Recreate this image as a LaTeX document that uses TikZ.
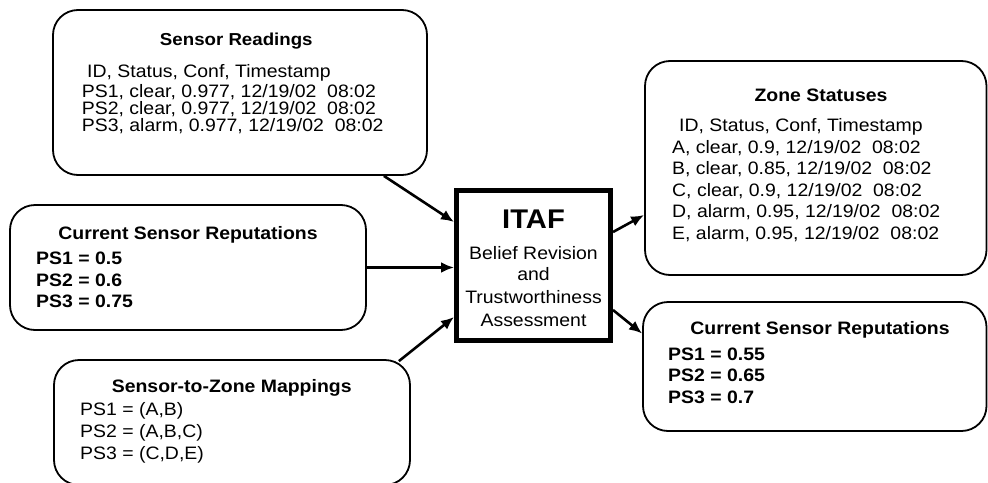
\documentclass[tikz,border=0pt]{standalone}
\usepackage{fontspec}
\setmainfont[FakeStretch=1.08]{Liberation Sans}
\usetikzlibrary{arrows.meta}
\begin{document}
\begin{tikzpicture}[x=1pt,y=-1pt,
  box/.style={draw,line width=1.8pt,rounded corners=25pt,inner sep=0pt},
  itafbox/.style={draw,line width=5pt,inner sep=0pt},
  ttl/.style={inner sep=0pt,anchor=base,font=\fontsize{18}{21}\selectfont\bfseries},
  bod/.style={inner sep=0pt,anchor=base west,font=\fontsize{18}{21}\selectfont},
  bodb/.style={bod,font=\fontsize{18}{21}\selectfont\bfseries},
  ctr/.style={inner sep=0pt,anchor=base,font=\fontsize{18}{21}\selectfont},
  arr/.style={line width=2.6pt,-{Latex[length=13pt,width=11pt]}}
]
\useasboundingbox (0,0) rectangle (988,482);

% boxes
\node[box,minimum width=374pt,minimum height=165pt] (sr) at (240,92.5) {};
\node[box,minimum width=356pt,minimum height=125pt] (lr) at (188,267.5) {};
\node[box,minimum width=356pt,minimum height=125pt] (stz) at (232,422.5) {};
\node[itafbox,minimum width=154pt,minimum height=150pt] (itaf) at (533.5,265.5) {};
\node[box,minimum width=341.5pt,minimum height=214pt] (zs) at (815.75,168) {};
\node[box,minimum width=343.5pt,minimum height=129pt] (rr) at (814.75,366.5) {};

% Sensor Readings
\node[ttl,font=\fontsize{17.3}{21}\selectfont\bfseries] (srt) at (236.3,45) {Sensor Readings};
\node[bod] (srh) at (87,77.3) {ID, Status, Conf, Timestamp};
\node[bod] (sr1) at (81.7,97.7) {PS1, clear, 0.977, 12/19/02\ \ 08:02};
\node[bod] (sr2) at (81.7,114.3) {PS2, clear, 0.977, 12/19/02\ \ 08:02};
\node[bod] (sr3) at (81.7,131) {PS3, alarm, 0.977, 12/19/02\ \ 08:02};

% Current Sensor Reputations (left)
\node[ttl] (lrt) at (188,239) {Current Sensor Reputations};
\node[bodb] (lr1) at (36,264) {PS1 = 0.5};
\node[bodb] (lr2) at (36,286) {PS2 = 0.6};
\node[bodb] (lr3) at (36,307) {PS3 = 0.75};

% Sensor-to-Zone Mappings
\node[ttl] (stzt) at (231.7,392.7) {Sensor-to-Zone Mappings};
\node[bod] (stz1) at (80,415) {PS1 = (A,B)};
\node[bod] (stz2) at (80,437.3) {PS2 = (A,B,C)};
\node[bod] (stz3) at (80,459.3) {PS3 = (C,D,E)};

% ITAF
\node[ttl,font=\fontsize{27}{30}\selectfont\bfseries] (itaft) at (533.5,228.3) {ITAF};
\node[ctr] (it1) at (533.5,259.3) {Belief Revision};
\node[ctr] (it2) at (533.5,280.7) {and};
\node[ctr] (it3) at (533.5,303.3) {Trustworthiness};
\node[ctr] (it4) at (533.5,326) {Assessment};

% Zone Statuses
\node[ttl] (zst) at (821,101) {Zone Statuses};
\node[bod] (zsh) at (679,131.5) {ID, Status, Conf, Timestamp};
\node[bod] (zs1) at (672,153) {A, clear, 0.9, 12/19/02\ \ 08:02};
\node[bod] (zs2) at (672,174.5) {B, clear, 0.85, 12/19/02\ \ 08:02};
\node[bod] (zs3) at (672,196) {C, clear, 0.9, 12/19/02\ \ 08:02};
\node[bod] (zs4) at (672,217.5) {D, alarm, 0.95, 12/19/02\ \ 08:02};
\node[bod] (zs5) at (672,239) {E, alarm, 0.95, 12/19/02\ \ 08:02};

% Current Sensor Reputations (right)
\node[ttl] (rrt) at (820,334) {Current Sensor Reputations};
\node[bodb] (rr1) at (668,360) {PS1 = 0.55};
\node[bodb] (rr2) at (668,381.7) {PS2 = 0.65};
\node[bodb] (rr3) at (668,403.3) {PS3 = 0.7};

% connectors
\draw[arr] ([xshift=-44pt]sr.south east) -- ([yshift=43.5pt]itaf.west);
\draw[arr] (lr.east) -- (lr.east -| itaf.west);
\draw[arr] ([xshift=-12pt,yshift=-2pt]stz.north east) -- ([yshift=-51.5pt]itaf.west);
\draw[arr] ([yshift=33.5pt]itaf.east) -- ([yshift=-47pt]zs.west);
\draw[arr] ([yshift=-44.5pt]itaf.east) -- ([yshift=33pt]rr.west);
\end{tikzpicture}
\end{document}
